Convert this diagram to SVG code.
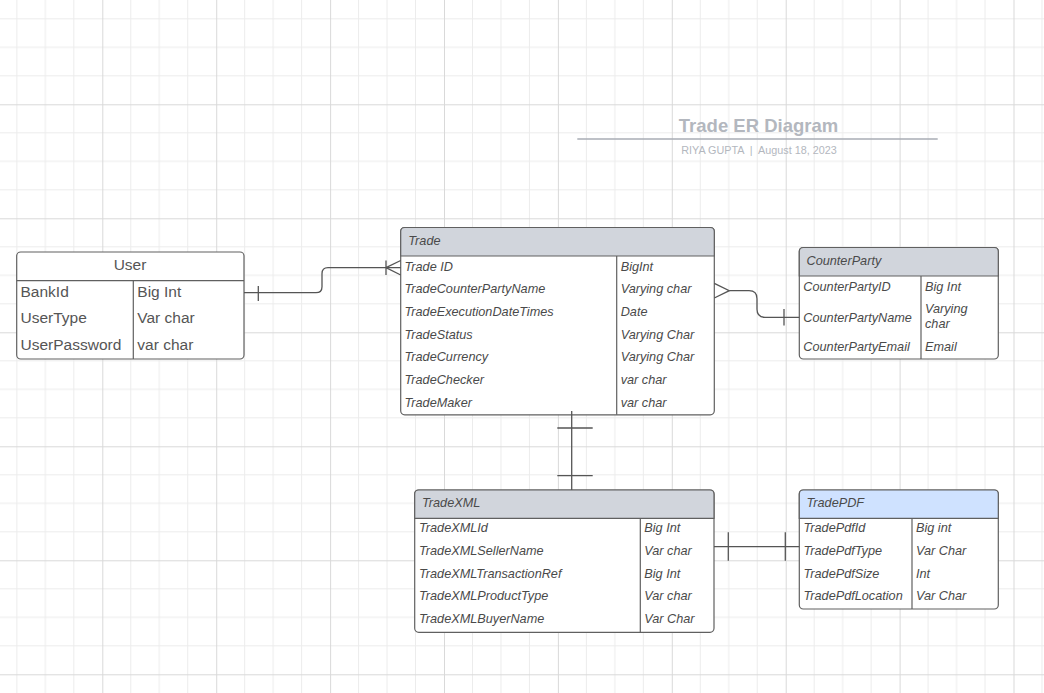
<svg xmlns="http://www.w3.org/2000/svg" width="1044" height="693" viewBox="0 0 1044 693">
<defs>
<pattern id="grid" patternUnits="userSpaceOnUse" x="102.3" y="104.3" width="113.9" height="114">
<path d="M28.47,0V114M56.95,0V114M85.42,0V114M0,28.5H113.9M0,57H113.9M0,85.5H113.9" stroke="#ececec" stroke-width="1" fill="none"/>
<path d="M0.5,0V114M0,0.5H113.9" stroke="#d9d9d9" stroke-width="1" fill="none"/>
</pattern>
<style>
.box{fill:#fff;stroke:#606060;stroke-width:1.2}
.hdr{fill:#d1d5dc;stroke:#606060;stroke-width:1.2}
.hdrb{fill:#cfe2ff;stroke:#606060;stroke-width:1.2}
.div{stroke:#606060;stroke-width:1.2;fill:none}
.t{font-family:"Liberation Sans",Arial,sans-serif;font-size:12.7px;font-style:italic;fill:#4a4a4a}
.h{font-family:"Liberation Sans",Arial,sans-serif;font-size:12.7px;font-style:italic;fill:#4a4a4a}
.u{font-family:"Liberation Sans",Arial,sans-serif;font-size:15.5px;fill:#555}
.c{stroke:#555;stroke-width:1.3;fill:none}
</style>
</defs>
<rect width="1044" height="693" fill="#fff"/>
<rect width="1044" height="693" fill="url(#grid)"/>

<g id="title">
<text x="758.5" y="132.3" text-anchor="middle" font-family="Liberation Sans,Arial,sans-serif" font-weight="bold" font-size="18.5" fill="#b3b7be">Trade ER Diagram</text>
<line x1="577.3" y1="139" x2="937.7" y2="139" stroke="#a8adb5" stroke-width="1.3"/>
<text x="759" y="154" text-anchor="middle" font-family="Liberation Sans,Arial,sans-serif" font-size="10.8" fill="#b3b7be" xml:space="preserve">RIYA GUPTA  |  August 18, 2023</text>
</g>

<g id="User">
<rect class="box" x="16.7" y="252" width="227.3" height="107" rx="4"/>
<line class="div" x1="16.7" y1="280.7" x2="244" y2="280.7"/>
<line class="div" x1="133.3" y1="280.7" x2="133.3" y2="359"/>
<text class="u" x="130" y="269.5" text-anchor="middle">User</text>
<text class="u" x="20.5" y="297">BankId</text>
<text class="u" x="137.3" y="297">Big Int</text>
<text class="u" x="20.5" y="323.3">UserType</text>
<text class="u" x="137.3" y="323.3">Var char</text>
<text class="u" x="20.5" y="349.5">UserPassword</text>
<text class="u" x="137.3" y="349.5">var char</text>
</g>

<g id="Trade">
<rect class="box" x="400.7" y="227.5" width="313.6" height="187.3" rx="4"/>
<path class="hdr" d="M400.7,256V231.5Q400.7,227.5 404.7,227.5H710.3Q714.3,227.5 714.3,231.5V256Z"/>
<line class="div" x1="616.7" y1="256" x2="616.7" y2="414.8"/>
<text class="h" x="408.3" y="244.5">Trade</text>
<text class="t" x="404.5" y="270.5">Trade ID</text><text class="t" x="620.7" y="270.5">BigInt</text>
<text class="t" x="404.5" y="293.2">TradeCounterPartyName</text><text class="t" x="620.7" y="293.2">Varying char</text>
<text class="t" x="404.5" y="315.9">TradeExecutionDateTimes</text><text class="t" x="620.7" y="315.9">Date</text>
<text class="t" x="404.5" y="338.6">TradeStatus</text><text class="t" x="620.7" y="338.6">Varying Char</text>
<text class="t" x="404.5" y="361.3">TradeCurrency</text><text class="t" x="620.7" y="361.3">Varying Char</text>
<text class="t" x="404.5" y="384">TradeChecker</text><text class="t" x="620.7" y="384">var char</text>
<text class="t" x="404.5" y="406.7">TradeMaker</text><text class="t" x="620.7" y="406.7">var char</text>
</g>

<g id="CounterParty">
<rect class="box" x="799.3" y="247.5" width="199" height="111.5" rx="4"/>
<path class="hdr" d="M799.3,276V251.5Q799.3,247.5 803.3,247.5H994.3Q998.3,247.5 998.3,251.5V276Z"/>
<line class="div" x1="921" y1="276" x2="921" y2="359"/>
<text class="h" x="806.5" y="265">CounterParty</text>
<text class="t" x="803.3" y="290.7">CounterPartyID</text><text class="t" x="925" y="290.7">Big Int</text>
<text class="t" x="803.3" y="321.5">CounterPartyName</text><text class="t" x="925" y="312.7">Varying</text><text class="t" x="925" y="327.5">char</text>
<text class="t" x="803.3" y="351">CounterPartyEmail</text><text class="t" x="925" y="351">Email</text>
</g>

<g id="TradeXML">
<rect class="box" x="414.7" y="490" width="299.3" height="142.3" rx="4"/>
<path class="hdr" d="M414.7,518.3V494Q414.7,490 418.7,490H710Q714,490 714,494V518.3Z"/>
<line class="div" x1="640.3" y1="518.3" x2="640.3" y2="632.3"/>
<text class="h" x="422" y="507">TradeXML</text>
<text class="t" x="419" y="532.3">TradeXMLId</text><text class="t" x="644.3" y="532.3">Big Int</text>
<text class="t" x="419" y="555">TradeXMLSellerName</text><text class="t" x="644.3" y="555">Var char</text>
<text class="t" x="419" y="577.7">TradeXMLTransactionRef</text><text class="t" x="644.3" y="577.7">Big Int</text>
<text class="t" x="419" y="600.4">TradeXMLProductType</text><text class="t" x="644.3" y="600.4">Var char</text>
<text class="t" x="419" y="623.1">TradeXMLBuyerName</text><text class="t" x="644.3" y="623.1">Var Char</text>
</g>

<g id="TradePDF">
<rect class="box" x="799.3" y="490" width="199" height="119" rx="4"/>
<path class="hdrb" d="M799.3,518.3V494Q799.3,490 803.3,490H994.3Q998.3,490 998.3,494V518.3Z"/>
<line class="div" x1="912" y1="518.3" x2="912" y2="609"/>
<text class="h" x="806.5" y="507">TradePDF</text>
<text class="t" x="803.5" y="532.3">TradePdfId</text><text class="t" x="916" y="532.3">Big int</text>
<text class="t" x="803.5" y="555">TradePdfType</text><text class="t" x="916" y="555">Var Char</text>
<text class="t" x="803.5" y="577.7">TradePdfSize</text><text class="t" x="916" y="577.7">Int</text>
<text class="t" x="803.5" y="600.4">TradePdfLocation</text><text class="t" x="916" y="600.4">Var Char</text>
</g>

<g id="connectors">
<path class="c" d="M244,292.7H316Q322,292.7 322,286.7V273.7Q322,267.7 328,267.7H400.7"/>
<path class="c" d="M258.3,286V301"/>
<path class="c" d="M386,267.7L400.7,260.5M386,267.7L400.7,275M386,260.5V275"/>
<path class="c" d="M714.3,283.3L729.3,290.7L714.3,298"/>
<path class="c" d="M729.3,290.7H749Q757,290.7 757,298.7V309.3Q757,317.3 765,317.3H799.3"/>
<path class="c" d="M784,309V325.5"/>
<path class="c" d="M571.7,411V490"/>
<path class="c" d="M557.3,428H592.7M557.3,475.7H592.7"/>
<path class="c" d="M714,546.7H799.3"/>
<path class="c" d="M728.3,532.3V560.7M785.3,532.3V560.7"/>
</g>
</svg>
